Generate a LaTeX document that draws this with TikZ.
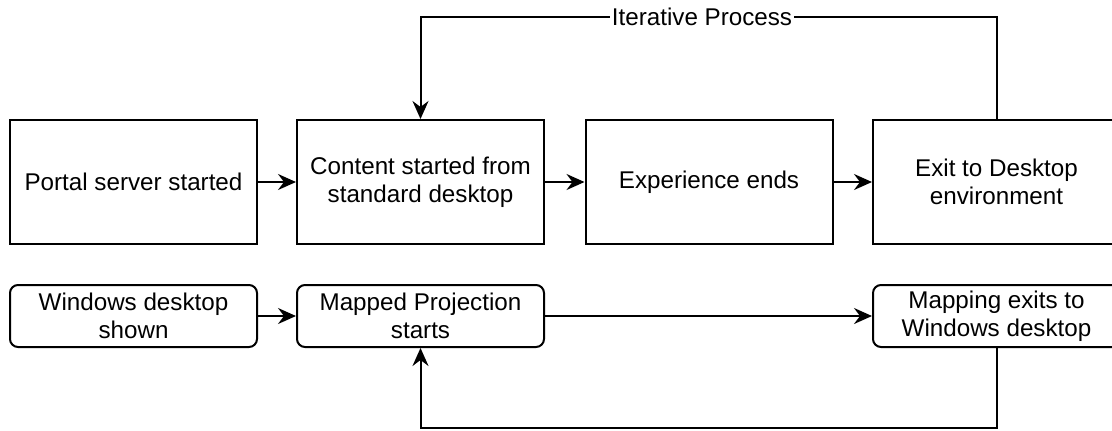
\documentclass[tikz,border=0pt]{standalone}
\usepackage{fontspec}
\setmainfont{Liberation Sans}
\usetikzlibrary{arrows.meta}
\newcommand{\bw}{123.5pt}
\newcommand{\bh}{62pt}

\begin{document}
\begin{tikzpicture}[x=0.5pt, y=-0.5pt, line width=1pt,
    rect/.style={draw, rectangle, minimum width=\bw, minimum height=\bh, align=center, inner sep=0pt, font=\fontsize{12.1}{14}\selectfont},
    rrect/.style={rect, rounded corners=4pt, minimum height=31pt},
    flow/.style={-{Stealth[length=9pt, width=8pt, inset=3pt]}}]
    \useasboundingbox (0,0) rectangle (1112,430);

    % Top row
    \node[rect] (portal) at (133.5,182) {Portal server started};
    \node[rect] (content) at (420.5,182) {Content started from\\standard desktop};
    \node[rect] (expEnd) at (709,182) {Experience ends};
    \node[rect] (exitDesk) at (996.5,182) {Exit to Desktop\\environment};

    % Bottom row
    \node[rrect] (winShown) at (133.5,316) {Windows desktop\\shown};
    \node[rrect] (mapStart) at (420.5,316) {Mapped Projection\\starts};
    \node[rrect] (mapExit) at (996.5,316) {Mapping exits to\\Windows desktop};

    \coordinate (loopTop) at (702,17);
    \coordinate (loopBot) at (709,428);

    \draw[flow] (portal) -- (content);
    \draw[flow] (content) -- (expEnd);
    \draw[flow] (expEnd) -- (exitDesk);
    \draw[flow] (exitDesk.north) |- (loopTop) -| (content.north);
    \node[fill=white, inner sep=1pt, font=\fontsize{12.1}{14}\selectfont] (iterLabel) at (loopTop) {Iterative Process};

    \draw[flow] (winShown) -- (mapStart);
    \draw[flow] (mapStart) -- (mapExit);
    \draw[flow] (mapExit.south) |- (loopBot) -| (mapStart.south);
\end{tikzpicture}
\end{document}
